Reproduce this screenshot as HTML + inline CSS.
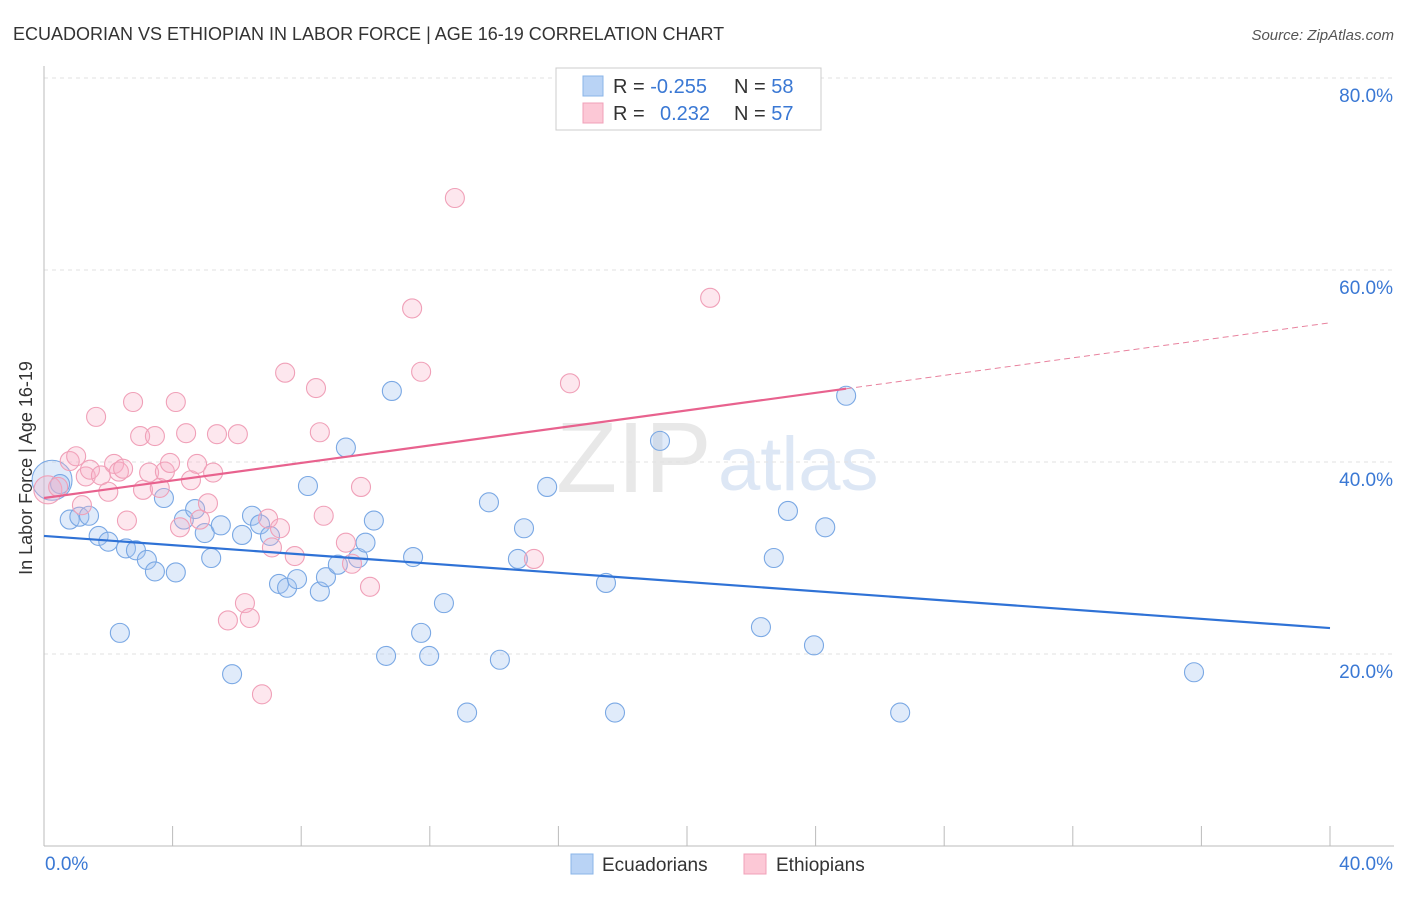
<!DOCTYPE html>
<html><head><meta charset="utf-8"><style>
body{margin:0;background:#fff;font-family:"Liberation Sans",sans-serif}
svg text{font-family:"Liberation Sans",sans-serif}
</style></head><body>
<svg id="chart" width="1406" height="892">
<text x="13" y="40" font-size="18" fill="#333">ECUADORIAN VS ETHIOPIAN IN LABOR FORCE | AGE 16-19 CORRELATION CHART</text>
<text x="1394" y="40" font-size="15" fill="#555" font-style="italic" text-anchor="end">Source: ZipAtlas.com</text>
<text x="556" y="492" font-size="100" fill="#e8e8e8" font-family="Liberation Serif">ZIP</text>
<text x="718" y="490" font-size="76" fill="#dde7f5">atlas</text>
<g id="grid"></g>
<g id="axes"></g>
<g id="marks"></g>
<g>
<rect x="556" y="68" width="265" height="62" fill="#fff" stroke="#ccc"/>
<rect x="583" y="76" width="20" height="20" fill="#b9d3f5" stroke="#8ab4e8"/>
<rect x="583" y="103" width="20" height="20" fill="#fcc8d6" stroke="#f0a0b8"/>
<text x="613" y="93" font-size="20" fill="#333">R = <tspan fill="#3a78d4">-0.255</tspan><tspan x="734">N = </tspan><tspan fill="#3a78d4">58</tspan></text>
<text x="613" y="120" font-size="20" fill="#333">R = <tspan x="660" fill="#3a78d4">0.232</tspan><tspan x="734">N = </tspan><tspan fill="#3a78d4">57</tspan></text>
</g>
<g>
<rect x="571" y="854" width="22" height="20" fill="#b9d3f5" stroke="#8ab4e8"/>
<text x="602" y="871" font-size="19" fill="#333">Ecuadorians</text>
<rect x="744" y="854" width="22" height="20" fill="#fcc8d6" stroke="#f0a0b8"/>
<text x="776" y="871" font-size="19" fill="#333">Ethiopians</text>
</g>
<text x="22" y="458" font-size="18" fill="#333" text-anchor="middle" transform="rotate(-90 32 458)">In Labor Force | Age 16-19</text>
</svg>
<script>
const blueX=[0.25,0.5,0.8,1.1,1.4,1.7,2.0,2.55,2.86,3.2,3.45,4.1,2.36,3.73,4.35,4.7,5.0,5.2,5.5,5.85,6.16,6.47,6.72,7.03,7.31,7.56,7.87,8.21,8.58,8.77,9.14,9.39,9.77,10.0,10.26,10.64,10.82,11.48,11.73,11.98,12.44,13.16,13.84,14.18,14.74,14.93,15.65,17.48,17.76,19.16,22.3,22.7,23.14,23.95,24.3,24.95,26.63,35.77];
const blueY=[38.1,37.7,34.0,34.3,34.4,32.3,31.7,31.0,30.8,29.8,28.6,28.5,22.2,36.25,34.0,35.1,32.6,30.0,33.4,17.9,32.4,34.4,33.5,32.3,27.3,26.9,27.8,37.5,26.5,28.0,29.3,41.5,30.0,31.6,33.9,19.8,47.4,30.1,22.2,19.8,25.3,13.9,35.8,19.4,29.9,33.1,37.4,27.4,13.9,42.2,22.8,30.0,34.9,20.9,33.2,46.9,13.9,18.1];
const pinkX=[0.12,0.44,0.8,1.0,1.18,1.3,1.43,1.62,1.77,2.0,2.18,2.33,2.46,2.58,2.77,2.99,3.08,3.27,3.45,3.6,3.76,3.92,4.1,4.23,4.42,4.57,4.76,4.85,5.1,5.26,5.38,5.72,6.03,6.25,6.4,6.78,6.97,7.09,7.34,7.5,7.8,8.46,8.58,8.7,9.39,9.58,9.86,10.14,11.45,11.73,12.78,15.24,16.36,20.72];
const pinkY=[37.1,37.4,40.1,40.6,35.5,38.5,39.2,44.7,38.6,36.9,39.8,39.0,39.3,33.9,46.25,42.7,37.1,38.9,42.7,37.3,39.0,39.9,46.25,33.2,43.0,38.1,39.8,34.0,35.7,38.9,42.9,23.5,42.9,25.3,23.75,15.8,34.1,31.1,33.1,49.3,30.2,47.7,43.1,34.4,31.6,29.4,37.4,27.0,56.0,49.4,67.5,29.9,48.2,57.1];
const blueTrend=[32.3,22.7];
const pinkTrend=[36.25,54.5];
const yTicks=[20,40,60,80];
const xTicks=[0,40];
const X=v=>44+v*32.15, Y=v=>846-v*9.6;
const NS='http://www.w3.org/2000/svg';
function mk(p,t,a){const e=document.createElementNS(NS,t);for(const k in a)e.setAttribute(k,a[k]);p.appendChild(e);return e;}
const grid=document.getElementById('grid'),axes=document.getElementById('axes'),marks=document.getElementById('marks');
yTicks.forEach(t=>{
 const l=mk(grid,'line',{x1:44,x2:1394,y1:Y(t),y2:Y(t),stroke:'#e2e2e2','stroke-dasharray':'4 4'});
 
 
 const tx=mk(axes,'text',{x:1393,y:Y(t)+24,'font-size':19,fill:'#3a78d4','text-anchor':'end'});tx.textContent=t.toFixed(1)+'%';
 
 
});
mk(axes,'line',{x1:44,x2:44,y1:66,y2:846,stroke:'#bbb'});
mk(axes,'line',{x1:44,x2:1394,y1:846,y2:846,stroke:'#bbb'});
for(let i=1;i<=10;i++){mk(axes,'line',{x1:X(i*4),x2:X(i*4),y1:826,y2:846,stroke:'#bbb'});}
xTicks.forEach((t,i)=>{const tx=mk(axes,'text',{x:i?1393:45,y:870,'font-size':19,fill:'#3a78d4','text-anchor':i?'end':'start'});tx.textContent=t.toFixed(1)+'%';
 
 });
function pts(xs,ys,fill,stroke,name){xs.forEach((x,i)=>{const r=i===0?(name==='blue'?20:14):9.5;const c=mk(marks,'circle',{cx:X(x),cy:Y(ys[i]),r:r,fill:fill,stroke:stroke,'stroke-width':1.1});
 
 });}
pts(blueX,blueY,'rgba(160,195,240,0.33)','#7aa8e4','blue');
pts(pinkX,pinkY,'rgba(248,175,198,0.3)','#f0a0b8','pink');
const bl=mk(marks,'line',{x1:X(0),y1:Y(blueTrend[0]),x2:X(40),y2:Y(blueTrend[1]),stroke:'#2f72d6','stroke-width':2.2});


const py=x=>pinkTrend[0]+(pinkTrend[1]-pinkTrend[0])*x/40;
const pl=mk(marks,'line',{x1:X(0),y1:Y(py(0)),x2:X(24.95),y2:Y(py(24.95)),stroke:'#e8628e','stroke-width':2.2});


const pd=mk(marks,'line',{x1:X(24.95),y1:Y(py(24.95)),x2:X(40),y2:Y(py(40)),stroke:'#e8829e','stroke-width':1,'stroke-dasharray':'6 4'});


</script>
</body></html>
